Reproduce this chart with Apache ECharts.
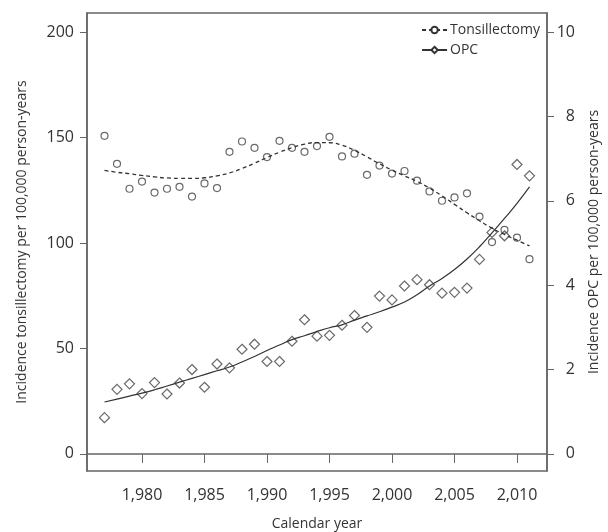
<!DOCTYPE html>
<html>
<head>
<meta charset="utf-8">
<script src="https://cdn.jsdelivr.net/npm/echarts@6/dist/echarts.min.js"></script>
<style>
  html, body { margin: 0; padding: 0; background: #fff; }
  #chart { width: 608px; height: 532px; }
</style>
</head>
<body>
<div id="chart"></div>
<script>
const years = [1977, 1978, 1979, 1980, 1981, 1982, 1983, 1984, 1985, 1986, 1987, 1988,
  1989, 1990, 1991, 1992, 1993, 1994, 1995, 1996, 1997, 1998, 1999, 2000, 2001, 2002,
  2003, 2004, 2005, 2006, 2007, 2008, 2009, 2010, 2011];

// observed rates
const tonsil = [150.8, 137.5, 125.7, 129.1, 123.9, 125.7, 126.6, 122.0, 128.2, 126.0, 143.2, 148.1,
  145.1, 140.7, 148.4, 145.1, 143.2, 145.9, 150.3, 141.0, 142.3, 132.3, 136.7, 132.9, 134.1, 129.5,
  124.4, 120.0, 121.6, 123.5, 112.5, 100.4, 106.2, 102.5, 92.3];
const opc = [0.86, 1.53, 1.66, 1.43, 1.69, 1.42, 1.68, 2.0, 1.58, 2.13, 2.04, 2.48,
  2.60, 2.19, 2.19, 2.67, 3.18, 2.79, 2.81, 3.05, 3.28, 3.0, 3.74, 3.65, 3.98, 4.13,
  4.01, 3.81, 3.83, 3.93, 4.61, 5.25, 5.17, 6.86, 6.59];

// smoothed trends
const tonsilFit = [134.4, 133.5, 132.8, 132.0, 131.3, 130.8, 130.6, 130.6, 130.9, 131.8, 133.2, 135.3,
  137.8, 140.5, 143.0, 145.2, 146.8, 147.6, 147.5, 146.3, 143.9, 140.8, 137.5, 134.5, 131.8, 129.2,
  126.0, 122.3, 118.3, 114.3, 110.5, 107.0, 104.0, 101.3, 98.6];
const opcFit = [1.23, 1.30, 1.37, 1.44, 1.52, 1.61, 1.70, 1.79, 1.88, 1.97, 2.06, 2.18,
  2.31, 2.45, 2.58, 2.71, 2.80, 2.90, 2.99, 3.06, 3.17, 3.27, 3.37, 3.48, 3.60, 3.77,
  3.98, 4.16, 4.37, 4.62, 4.91, 5.24, 5.58, 5.94, 6.33];

const xTicks = [1980, 1985, 1990, 1995, 2000, 2005, 2010];
const leftTicks = [0, 50, 100, 150, 200];
const rightTicks = [0, 2, 4, 6, 8, 10];

const pair = (vals) => years.map((y, i) => [y, vals[i]]);

const font = 'Open Sans';
const ink = '#333';
const axisGray = '#666';

const chart = echarts.init(document.getElementById('chart'));

chart.setOption({
    animation: false,
    textStyle: {fontFamily: font},
    grid: {
        left: 87, right: 61, top: 13, bottom: 61,
        outerBoundsMode: 'none',
        show: true, borderColor: axisGray, borderWidth: 1.5
    },
    legend: {
        data: ['Tonsillectomy', 'OPC'],
        orient: 'vertical',
        right: 68, top: 23, padding: 0,
        itemWidth: 25, itemHeight: 8, itemGap: 6,
        textStyle: {fontFamily: font, fontSize: 14, lineHeight: 14, color: ink, padding: [0, 0, 0, -2]}
    },
    xAxis: {
        type: 'value',
        min: 1975.6, max: 2012.4,
        name: 'Calendar year',
        nameLocation: 'middle', nameGap: 46,
        nameTextStyle: {fontSize: 14, color: ink},
        splitLine: {show: false},
        axisLine: {lineStyle: {color: axisGray, width: 1.5}},
        axisTick: {customValues: xTicks, length: 9, lineStyle: {color: axisGray}},
        axisLabel: {customValues: xTicks, margin: 16, fontSize: 16, color: ink}
    },
    yAxis: [{
        type: 'value',
        min: -8.1, max: 209,
        name: 'Incidence tonsillectomy per 100,000 person-years',
        nameLocation: 'middle', nameGap: 58,
        nameTextStyle: {fontSize: 14, color: ink},
        splitLine: {show: false},
        axisLine: {show: true, lineStyle: {color: axisGray, width: 1.5}},
        axisTick: {show: true, customValues: leftTicks, length: 7, lineStyle: {color: axisGray}},
        axisLabel: {customValues: leftTicks, margin: 13, fontSize: 16, color: ink}
    }, {
        type: 'value',
        position: 'right',
        min: -0.405, max: 10.45,
        name: 'Incidence OPC per 100,000 person-years',
        nameLocation: 'middle', nameGap: 40,
        nameTextStyle: {fontSize: 14, color: ink},
        splitLine: {show: false},
        axisLine: {show: true, lineStyle: {color: axisGray, width: 1.5}},
        axisTick: {show: true, customValues: rightTicks, length: 7, lineStyle: {color: axisGray}},
        axisLabel: {customValues: rightTicks, margin: 28, align: 'right', fontSize: 16, color: ink}
    }],
    series: [{
        name: 'Tonsillectomy',
        type: 'line',
        data: pair(tonsilFit),
        smooth: true,
        showSymbol: false,
        symbol: 'circle', symbolSize: 5,
        itemStyle: {color: '#fff', borderColor: ink, borderWidth: 1},
        lineStyle: {color: ink, width: 1.3, type: [4, 3]}
    }, {
        name: 'OPC',
        type: 'line',
        yAxisIndex: 1,
        data: pair(opcFit),
        smooth: true,
        showSymbol: false,
        symbol: 'diamond', symbolSize: 7,
        itemStyle: {color: '#fff', borderColor: ink, borderWidth: 1},
        lineStyle: {color: ink, width: 1.2}
    }, {
        name: 'tonsilObs',
        type: 'scatter',
        data: pair(tonsil),
        symbol: 'circle', symbolSize: 7,
        itemStyle: {color: 'rgba(255,255,255,0)', borderColor: '#444', borderWidth: 1.2}
    }, {
        name: 'opcObs',
        type: 'scatter',
        yAxisIndex: 1,
        data: pair(opc),
        symbol: 'diamond', symbolSize: 10,
        itemStyle: {color: 'rgba(255,255,255,0)', borderColor: '#444', borderWidth: 1.2}
    }]
});
</script>
</body>
</html>
